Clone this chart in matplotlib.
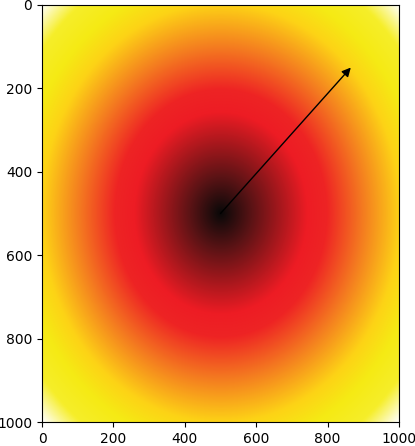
import numpy as np
import matplotlib
matplotlib.use("Agg")
import matplotlib.pyplot as plt
from matplotlib.colors import LinearSegmentedColormap

# gradient definition
stop_positions = [0.0, 0.02, 0.12, 0.34, 0.42, 0.56, 0.71, 0.80, 0.90, 1.0]
stop_colors = ["#0a0808", "#170b0b", "#5a1315", "#ed1c24", "#ee2424", "#f47a20",
               "#fdd316", "#f5ea14", "#f6ee2a", "#ffffff"]
center = (500, 500)
arrow_end = (865, 150)
x_ticks = [0, 200, 400, 600, 800, 1000]
y_ticks = [0, 200, 400, 600, 800, 1000]

cmap = LinearSegmentedColormap.from_list("grad", list(zip(stop_positions, stop_colors)))

n = 1000
xs = np.linspace(0, 1000, n)
ys = np.linspace(0, 1000, n)
X, Y = np.meshgrid(xs, ys)
R = np.hypot(X - center[0], Y - center[1]) / np.hypot(500, 500)

fig = plt.figure(figsize=(4.15, 4.46), dpi=100)
ax = fig.add_axes([42 / 415, 1 - 422 / 446, 357 / 415, 417 / 446])
ax.imshow(R, cmap=cmap, vmin=0, vmax=1, extent=[0, 1000, 1000, 0], aspect="auto",
          interpolation="bilinear")
ax.annotate("", xy=arrow_end, xytext=center,
            arrowprops=dict(arrowstyle="-|>", color="black", lw=1.0, mutation_scale=13,
                            shrinkA=0, shrinkB=0))
ax.set_xlim(0, 1000)
ax.set_ylim(1000, 0)
ax.set_xticks(x_ticks)
ax.set_yticks(y_ticks)
ax.tick_params(labelsize=10)
fig.savefig("out.png", dpi=100)
